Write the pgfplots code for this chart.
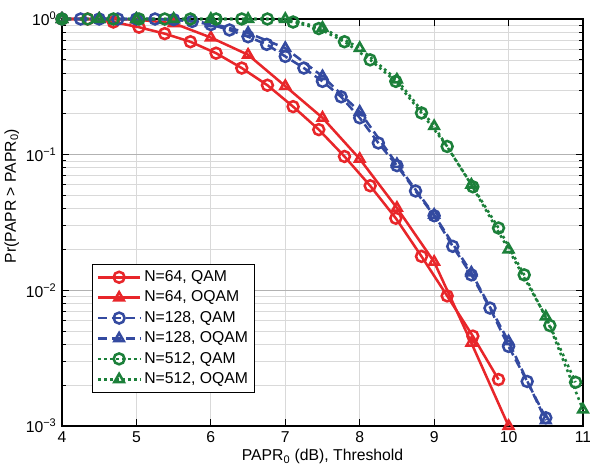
\documentclass[border=0pt]{standalone}
\usepackage{fontspec}
\setmainfont{Liberation Sans}
\usepackage{pgfplots}
\pgfplotsset{compat=1.18}
\definecolor{cred}{RGB}{232,38,42}
\definecolor{cblue}{RGB}{52,74,160}
\definecolor{cgreen}{RGB}{28,128,58}
\begin{document}
\fontsize{11.8}{13}\selectfont
\begin{tikzpicture}
\begin{axis}[
  scale only axis, width=390.75pt, height=305.25pt,
  ymode=log, xmin=4, xmax=11, ymin=1e-3, ymax=1,
  xtick={4,...,11},
  ytick={1e-3,1e-2,1e-1,1},
  yticklabels={10\textsuperscript{−3},10\textsuperscript{−2},10\textsuperscript{−1},10\textsuperscript{0}},
  /pgf/number format/assume math mode=true,
  grid=both,
  major grid style={gray!60, line width=0.6pt},
  minor grid style={gray!30, line width=0.5pt},
  x grid style={gray!30},
  tick align=inside,
  major tick length=5pt, minor tick length=3pt,
  every tick/.style={black, line width=0.6pt},
  axis line style={line width=0.9pt},
  xlabel={PAPR\textsubscript{0} (dB), Threshold},
  ylabel={Pr(PAPR > PAPR\textsubscript{0})},
  xlabel style={yshift=3pt},
  ylabel style={at={(ticklabel cs:0.565)}, yshift=-3pt},
  clip=false,
  legend style={at={(0.058,0.081)}, anchor=south west, draw=black, line width=0.6pt,
    fill=white, row sep=1.3pt, inner sep=3pt},
  legend cell align=left,
  legend image code/.code={\draw[mark repeat=2,mark phase=2] plot coordinates {(0cm,0cm) (0.56cm,0cm) (1.12cm,0cm)};},
  every axis plot/.append style={line width=1.9pt, mark size=4.1pt},
]
% N=64, QAM
\addplot[cred, mark=o] coordinates {
 (4.000,1) (4.345,1) (4.690,0.95) (5.035,0.87) (5.380,0.78) (5.725,0.68)
 (6.070,0.56) (6.415,0.435) (6.760,0.325) (7.105,0.226) (7.450,0.153)
 (7.795,0.097) (8.140,0.059) (8.485,0.034) (8.830,0.0178) (9.175,0.0091)
 (9.520,0.0046) (9.865,0.0022)};
\addlegendentry{N=64, QAM}
% N=64, OQAM
\addplot[cred, mark=triangle] coordinates {
 (4,1) (4.5,1) (5,0.99) (5.5,0.93) (6,0.73) (6.5,0.545) (7,0.32)
 (7.5,0.187) (8,0.093) (8.5,0.0405) (9,0.0162) (9.5,0.0041) (10,0.001)};
\addlegendentry{N=64, OQAM}
% N=128, QAM
\addplot[cblue, mark=o, dash pattern=on 7pt off 3.5pt, mark options={solid}] coordinates {
 (4,1) (4.25,1) (4.5,1) (4.75,1) (5,1) (5.25,1) (5.5,0.99) (5.75,0.96)
 (6,0.91) (6.25,0.83) (6.5,0.74) (6.75,0.65) (7,0.53) (7.25,0.435)
 (7.5,0.347) (7.75,0.267) (8,0.187) (8.25,0.122) (8.5,0.083) (8.75,0.054)
 (9,0.0355) (9.25,0.0211) (9.5,0.013) (9.75,0.0074) (10,0.00386)
 (10.25,0.00213) (10.5,0.00115)};
\addlegendentry{N=128, QAM}
% N=128, OQAM
\addplot[cblue, mark=triangle, dash pattern=on 7pt off 3.5pt, mark options={solid}] coordinates {
 (4,1) (4.5,1) (5,1) (5.5,0.99) (6,0.93) (6.5,0.79) (7,0.61) (7.5,0.378)
 (8,0.207) (8.5,0.085) (9,0.036) (9.5,0.0135) (10,0.0042) (10.5,0.0011)};
\addlegendentry{N=128, OQAM}
% N=512, QAM
\addplot[cgreen, mark=o, dash pattern=on 2pt off 2.5pt, mark options={solid}] coordinates {
 (4.000,1) (4.345,1) (4.690,1) (5.035,1) (5.380,1) (5.725,1) (6.070,1)
 (6.415,1) (6.760,1) (7.105,0.95) (7.450,0.85) (7.795,0.68) (8.140,0.50)
 (8.485,0.347) (8.830,0.203) (9.175,0.115) (9.520,0.058) (9.865,0.0288)
 (10.210,0.013) (10.555,0.0055) (10.900,0.0021)};
\addlegendentry{N=512, QAM}
% N=512, OQAM
\addplot[cgreen, mark=triangle, dash pattern=on 2pt off 2.5pt, mark options={solid}] coordinates {
 (4,1) (4.5,1) (5,1) (5.5,1) (6,1) (6.5,1) (7,1) (7.5,0.86) (8,0.61)
 (8.5,0.357) (9,0.162) (9.5,0.06) (10,0.02) (10.5,0.0064) (11,0.00132)};
\addlegendentry{N=512, OQAM}
\coordinate (SW) at (rel axis cs:0,0);
\coordinate (NE) at (rel axis cs:1,1);
\end{axis}
\pgfresetboundingbox
\path ([shift={(-46.5pt,-32.25pt)}]SW) rectangle ([shift={(5.25pt,14.25pt)}]NE);
\end{tikzpicture}
\end{document}
